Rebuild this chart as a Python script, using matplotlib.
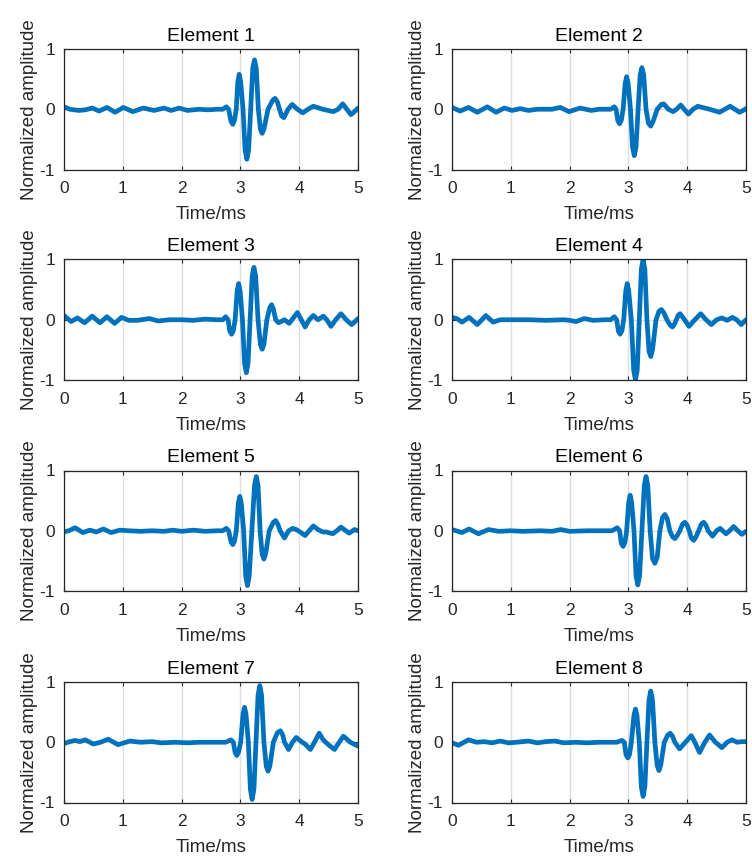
import matplotlib
matplotlib.use("Agg")
import matplotlib.pyplot as plt
import numpy as np

plt.rcParams['font.family'] = ['Liberation Sans', 'DejaVu Sans']
plt.rcParams['axes.unicode_minus'] = False

# (time in ms, normalized amplitude)
e1 = [(0, 0.04), (0.1, 0.0), (0.25, -0.02), (0.36, -0.01), (0.48, 0.02), (0.6, -0.03),
      (0.73, 0.03), (0.87, -0.05), (1.01, 0.03), (1.17, -0.04), (1.35, 0.02), (1.53, -0.02),
      (1.7, 0.02), (1.82, -0.02), (1.96, 0.02), (2.1, -0.02), (2.3, 0.0), (2.45, -0.01),
      (2.6, 0.0), (2.70, 0.0), (2.76, 0.04), (2.80, 0.0), (2.84, -0.20), (2.87, -0.25),
      (2.90, -0.18), (2.93, 0.0), (2.955, 0.45), (2.98, 0.58), (3.005, 0.45), (3.045, 0.0),
      (3.08, -0.68), (3.11, -0.83), (3.14, -0.68), (3.175, 0.0), (3.21, 0.68), (3.24, 0.82),
      (3.27, 0.68), (3.305, 0.0), (3.34, -0.33), (3.37, -0.40), (3.40, -0.33), (3.47, 0.0),
      (3.55, 0.15), (3.59, 0.18), (3.63, 0.12), (3.665, 0.0), (3.70, -0.11), (3.74, -0.14),
      (3.78, -0.06), (3.81, 0.0), (3.88, 0.08), (3.97, 0.0), (4.06, -0.06), (4.15, 0.0),
      (4.24, 0.05), (4.40, 0.0), (4.58, -0.04), (4.66, 0.0), (4.74, 0.09), (4.81, 0.0),
      (4.88, -0.09), (4.95, -0.03), (5.0, 0.02)]

e2 = [(0, 0.03), (0.14, -0.03), (0.28, 0.03), (0.43, -0.05), (0.60, 0.04), (0.75, -0.05),
      (0.89, 0.02), (1.02, -0.02), (1.16, 0.01), (1.3, -0.02), (1.45, 0.0), (1.7, 0.0),
      (1.84, 0.03), (1.99, -0.04), (2.18, 0.02), (2.37, -0.02), (2.5, 0.0), (2.70, 0.0),
      (2.76, 0.04), (2.79, 0.0), (2.82, -0.19), (2.85, -0.24), (2.88, -0.18), (2.91, 0.0),
      (2.945, 0.43), (2.97, 0.54), (2.995, 0.43), (3.035, 0.0), (3.07, -0.63), (3.10, -0.77),
      (3.13, -0.63), (3.165, 0.0), (3.20, 0.57), (3.23, 0.69), (3.26, 0.57), (3.30, 0.0),
      (3.34, -0.23), (3.38, -0.28), (3.42, -0.20), (3.49, 0.0), (3.56, 0.08), (3.60, 0.09),
      (3.68, 0.0), (3.76, -0.04), (3.82, 0.0), (3.89, 0.07), (3.95, 0.0), (4.02, -0.08),
      (4.10, 0.0), (4.18, 0.05), (4.38, 0.0), (4.55, -0.05), (4.64, 0.0), (4.73, 0.05),
      (4.81, 0.0), (4.89, -0.05), (4.95, -0.02), (5.0, 0.01)]

e3 = [(0, 0.07), (0.12, -0.03), (0.23, 0.03), (0.35, -0.05), (0.48, 0.06), (0.61, -0.05),
      (0.73, 0.05), (0.86, -0.06), (0.98, 0.04), (1.1, -0.01), (1.25, -0.01), (1.45, 0.02),
      (1.6, -0.02), (1.8, 0.0), (2.0, 0.0), (2.2, -0.01), (2.4, 0.01), (2.6, 0.0),
      (2.70, 0.0), (2.75, 0.05), (2.79, 0.0), (2.82, -0.19), (2.85, -0.24), (2.88, -0.18),
      (2.91, 0.0), (2.945, 0.48), (2.97, 0.60), (2.995, 0.48), (3.035, 0.0), (3.07, -0.72),
      (3.10, -0.88), (3.13, -0.72), (3.165, 0.0), (3.20, 0.72), (3.23, 0.87), (3.26, 0.72),
      (3.30, 0.0), (3.34, -0.41), (3.37, -0.49), (3.40, -0.41), (3.45, 0.0), (3.50, 0.20),
      (3.53, 0.25), (3.56, 0.18), (3.60, 0.0), (3.65, -0.05), (3.75, 0.0), (3.83, -0.06),
      (3.90, 0.03), (3.97, 0.12), (4.035, 0.0), (4.10, -0.12), (4.17, 0.0), (4.24, 0.07),
      (4.32, 0.0), (4.41, 0.06), (4.47, 0.0), (4.54, -0.11), (4.62, 0.0), (4.71, 0.10),
      (4.80, 0.0), (4.89, -0.08), (4.95, -0.03), (5.0, 0.02)]

e4 = [(0, 0.04), (0.08, 0.02), (0.17, -0.04), (0.29, 0.04), (0.43, -0.08), (0.575, 0.07),
      (0.70, -0.04), (0.82, 0.0), (1.0, 0.0), (1.3, 0.0), (1.6, -0.01), (1.9, 0.0),
      (2.0, -0.01), (2.11, -0.03), (2.25, 0.02), (2.4, -0.01), (2.6, 0.0), (2.70, 0.0),
      (2.76, 0.05), (2.80, 0.0), (2.83, -0.19), (2.86, -0.24), (2.89, -0.18), (2.92, 0.0),
      (2.955, 0.48), (2.98, 0.60), (3.005, 0.48), (3.05, 0.0), (3.09, -0.84), (3.12, -1.0),
      (3.15, -0.84), (3.185, 0.0), (3.22, 0.84), (3.25, 1.0), (3.28, 0.84), (3.315, 0.0),
      (3.35, -0.52), (3.38, -0.61), (3.41, -0.50), (3.47, 0.0), (3.52, 0.14), (3.56, 0.17),
      (3.60, 0.12), (3.655, 0.0), (3.71, -0.09), (3.75, -0.12), (3.79, -0.06), (3.815, 0.0),
      (3.85, 0.08), (3.88, 0.10), (3.91, 0.06), (3.955, 0.0), (4.03, -0.11), (4.13, 0.0),
      (4.23, 0.10), (4.32, 0.0), (4.41, -0.08), (4.50, 0.0), (4.59, 0.03), (4.68, -0.01),
      (4.77, 0.04), (4.84, 0.0), (4.92, -0.08), (5.0, 0.0)]

e5 = [(0, -0.02), (0.08, 0.0), (0.19, 0.05), (0.32, -0.03), (0.44, 0.01), (0.55, -0.02),
      (0.67, 0.03), (0.80, -0.03), (0.95, 0.01), (1.1, 0.0), (1.3, -0.01), (1.5, 0.0),
      (1.7, -0.01), (1.85, 0.01), (2.0, -0.01), (2.2, 0.01), (2.4, -0.01), (2.6, 0.0),
      (2.70, 0.0), (2.76, 0.04), (2.80, 0.0), (2.84, -0.18), (2.87, -0.23), (2.90, -0.17),
      (2.93, 0.0), (2.965, 0.46), (2.99, 0.57), (3.015, 0.46), (3.055, 0.0), (3.09, -0.75),
      (3.12, -0.91), (3.15, -0.75), (3.195, 0.0), (3.24, 0.75), (3.27, 0.90), (3.30, 0.75),
      (3.335, 0.0), (3.37, -0.39), (3.40, -0.47), (3.43, -0.38), (3.49, 0.0), (3.56, 0.14),
      (3.60, 0.17), (3.64, 0.10), (3.675, 0.0), (3.75, -0.12), (3.82, 0.0), (3.89, 0.04),
      (3.95, 0.02), (4.03, -0.03), (4.10, -0.08), (4.17, 0.0), (4.24, 0.08), (4.32, 0.02),
      (4.40, -0.02), (4.46, -0.02), (4.57, -0.05), (4.64, 0.0), (4.71, 0.06), (4.78, 0.01),
      (4.85, -0.04), (4.94, 0.02), (5.0, 0.0)]

e6 = [(0, 0.02), (0.17, -0.03), (0.29, 0.03), (0.45, -0.05), (0.62, 0.02), (0.8, -0.01),
      (1.0, 0.0), (1.2, -0.01), (1.5, 0.0), (1.7, -0.01), (1.85, 0.02), (2.0, -0.01),
      (2.3, 0.0), (2.72, 0.0), (2.81, 0.05), (2.85, 0.0), (2.88, -0.21), (2.91, -0.26),
      (2.94, -0.20), (2.97, 0.0), (3.005, 0.47), (3.03, 0.59), (3.055, 0.47), (3.095, 0.0),
      (3.13, -0.75), (3.16, -0.90), (3.19, -0.75), (3.23, 0.0), (3.27, 0.75), (3.30, 0.90),
      (3.33, 0.75), (3.37, 0.0), (3.41, -0.46), (3.45, -0.54), (3.49, -0.44), (3.535, 0.0),
      (3.58, 0.22), (3.62, 0.27), (3.66, 0.20), (3.705, 0.0), (3.75, -0.10), (3.79, -0.13),
      (3.83, -0.08), (3.875, 0.0), (3.92, 0.11), (3.96, 0.14), (4.00, 0.09), (4.035, 0.0),
      (4.07, -0.12), (4.11, -0.16), (4.15, -0.10), (4.195, 0.0), (4.24, 0.11), (4.28, 0.14),
      (4.32, 0.09), (4.355, 0.0), (4.43, -0.09), (4.50, 0.0), (4.56, 0.04), (4.66, -0.05),
      (4.72, 0.0), (4.79, 0.07), (4.86, 0.0), (4.93, -0.06), (5.0, -0.01)]

e7 = [(0, -0.02), (0.1, 0.01), (0.19, 0.03), (0.27, 0.01), (0.36, 0.04), (0.50, -0.03),
      (0.62, 0.0), (0.75, 0.05), (0.92, -0.04), (1.12, 0.02), (1.3, 0.0), (1.5, 0.01),
      (1.65, -0.01), (1.9, 0.0), (2.1, -0.01), (2.3, 0.0), (2.75, 0.0), (2.84, 0.04),
      (2.88, 0.0), (2.91, -0.17), (2.94, -0.22), (2.97, -0.16), (3.005, 0.0), (3.045, 0.47),
      (3.07, 0.58), (3.095, 0.47), (3.135, 0.0), (3.17, -0.78), (3.20, -0.95), (3.23, -0.78),
      (3.265, 0.0), (3.30, 0.78), (3.33, 0.94), (3.36, 0.78), (3.40, 0.0), (3.44, -0.40),
      (3.47, -0.48), (3.50, -0.40), (3.56, 0.0), (3.63, 0.16), (3.68, 0.19), (3.72, 0.12),
      (3.75, 0.0), (3.82, -0.12), (3.885, 0.0), (3.95, 0.08), (4.05, 0.0), (4.10, -0.03),
      (4.19, -0.12), (4.26, 0.0), (4.34, 0.15), (4.40, 0.05), (4.45, 0.0), (4.52, -0.06),
      (4.60, -0.12), (4.68, 0.0), (4.75, 0.10), (4.80, 0.06), (4.87, 0.0), (4.99, -0.06)]

e8 = [(0, -0.01), (0.11, -0.05), (0.28, 0.04), (0.42, 0.0), (0.55, 0.01), (0.68, -0.01),
      (0.82, 0.02), (0.96, -0.01), (1.1, 0.0), (1.3, 0.02), (1.45, -0.01), (1.6, 0.01),
      (1.75, 0.02), (1.9, -0.01), (2.1, 0.0), (2.3, -0.01), (2.5, 0.0), (2.80, 0.0),
      (2.89, 0.03), (2.93, 0.0), (2.96, -0.21), (2.99, -0.26), (3.02, -0.20), (3.05, 0.0),
      (3.095, 0.45), (3.12, 0.55), (3.145, 0.45), (3.185, 0.0), (3.22, -0.74), (3.25, -0.90),
      (3.28, -0.74), (3.315, 0.0), (3.35, 0.70), (3.38, 0.85), (3.41, 0.70), (3.45, 0.0),
      (3.49, -0.39), (3.52, -0.47), (3.55, -0.38), (3.61, 0.0), (3.67, 0.12), (3.71, 0.15),
      (3.75, 0.10), (3.79, 0.0), (3.87, -0.11), (3.97, 0.0), (4.07, 0.11), (4.13, 0.0),
      (4.21, -0.17), (4.30, 0.0), (4.38, 0.12), (4.48, 0.0), (4.59, -0.09), (4.68, 0.0),
      (4.76, 0.04), (4.85, 0.0), (4.92, 0.01), (5.0, 0.01)]

waves = [e1, e2, e3, e4, e5, e6, e7, e8]
titles = [f"Element {i}" for i in range(1, 9)]
xticks = [0, 1, 2, 3, 4, 5]
yticks = [-1, 0, 1]

W, H = 752, 859
fig = plt.figure(figsize=(W / 100, H / 100), dpi=100)

col_left = [64, 452]
row_top = [49, 259.5, 470.5, 682]
ax_w, ax_h = 294, 120.5

for i, wave in enumerate(waves):
    r, c = divmod(i, 2)
    ax = fig.add_axes([col_left[c] / W, 1 - (row_top[r] + ax_h) / H, ax_w / W, ax_h / H])
    t = np.array([p[0] for p in wave])
    a = np.array([p[1] for p in wave])
    ax.plot(t, a, color='#0072BD', lw=3.4, solid_joinstyle='round', solid_capstyle='round')
    ax.set_xlim(0, 5)
    ax.set_ylim(-1, 1)
    ax.set_xticks(xticks)
    ax.set_yticks(yticks)
    ax.grid(True, color='#dfdfdf', lw=1.0)
    ax.set_axisbelow(True)
    ax.tick_params(direction='in', length=3, width=0.8, labelsize=12.5, colors='#262626',
                   top=True, right=True)
    ax.tick_params(axis='x', pad=8.5)
    ax.tick_params(axis='y', pad=6.5)
    for s in ax.spines.values():
        s.set_color('#262626')
        s.set_linewidth(0.9)
    ax.set_title(titles[i], fontsize=14, pad=6, color='#000000')
    ax.set_xlabel('Time/ms', fontsize=13.5, labelpad=7, color='#262626')
    ax.set_ylabel('Normalized amplitude', fontsize=13.5, labelpad=1, color='#262626')

fig.savefig('out.png', dpi=100)
